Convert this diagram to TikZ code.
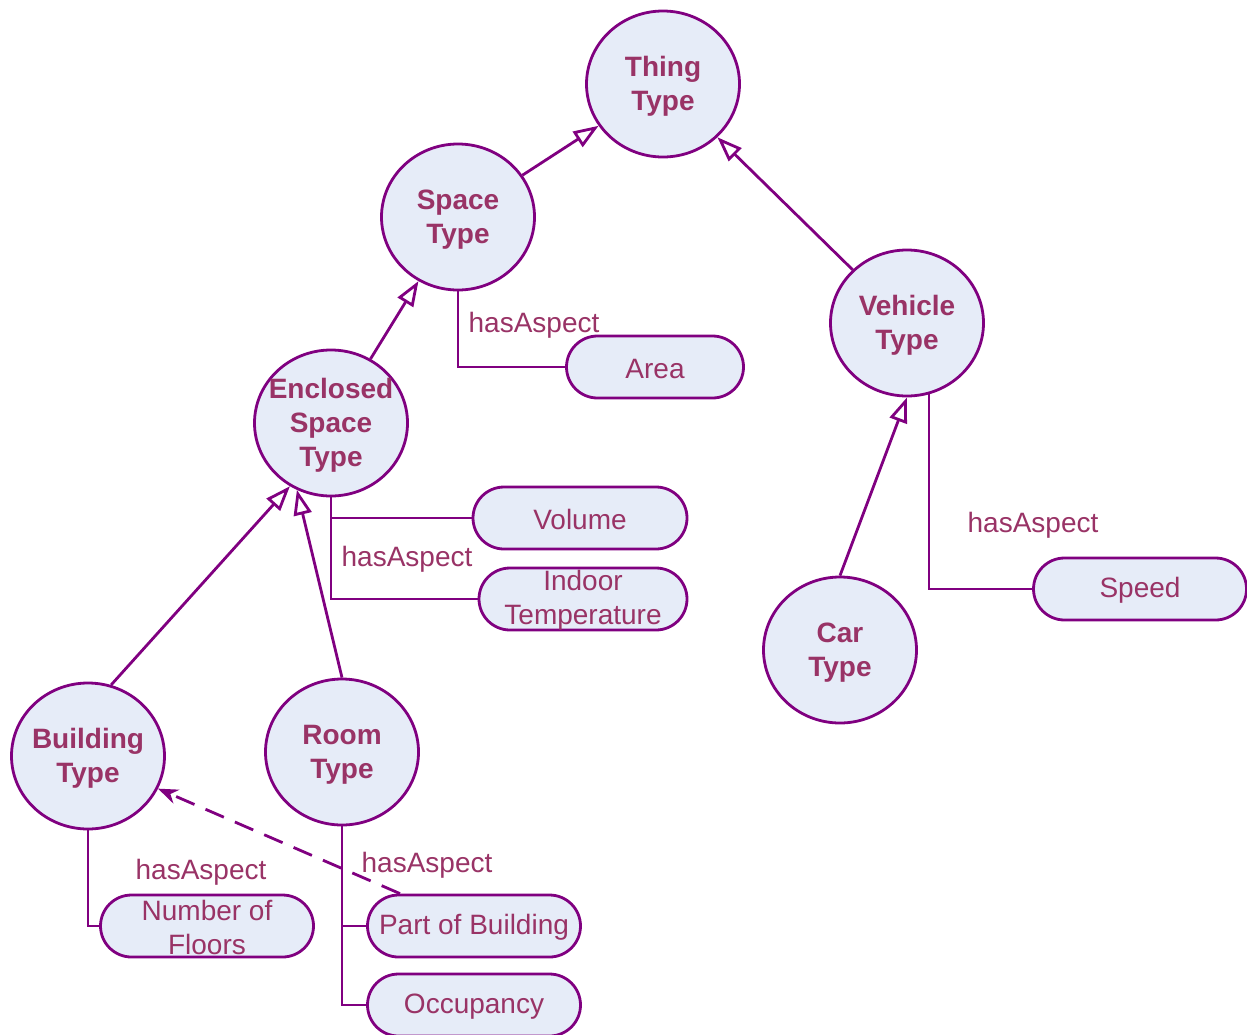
\documentclass[tikz,border=0pt]{standalone}
\usepackage{fontspec}
\setmainfont{Liberation Sans}
\usetikzlibrary{shapes.geometric,shapes.misc,arrows.meta}
\definecolor{lnc}{HTML}{800080}
\definecolor{txc}{HTML}{993366}
\definecolor{fil}{HTML}{E6ECF8}
\pgfdeclarelayer{background}
\pgfsetlayers{background,main}
\tikzset{
  cls/.style={ellipse, draw=lnc, line width=2.8pt, fill=fil, minimum width=153pt, minimum height=146pt, inner sep=0pt},
  ctext/.style={align=center, text=txc, inner sep=0pt, yshift=-2.5pt, font=\fontsize{28}{34}\selectfont\bfseries},
  pill/.style={rounded rectangle, draw=lnc, line width=2.8pt, fill=fil, minimum width=213pt, minimum height=62pt, inner sep=0pt},
  ptext/.style={align=center, text=txc, inner sep=0pt, yshift=-1.5pt, font=\fontsize{28}{34}\selectfont},
  lbl/.style={text=txc, font=\fontsize{28}{34}\selectfont, inner sep=0pt},
  inh/.style={draw=lnc, line width=2.8pt, -{Triangle[open, length=25pt, width=18pt, fill=white]}},
  asp/.style={draw=lnc, line width=2.8pt},
  dep/.style={draw=lnc, line width=2.8pt, dash pattern=on 20pt off 12pt, -{Stealth[length=20pt, width=15pt]}}
}
\newcommand\cnode[3]{\node[cls, label={[ctext]center:{#3}}] (#1) at #2 {};}
\newcommand\pnode[4]{\node[pill, minimum width=#3, label={[ptext]center:{#4}}] (#1) at #2 {};}
\begin{document}
\begin{tikzpicture}[x=1pt, y=-1pt]
\useasboundingbox (0,0) rectangle (1247,1034);
\clip (0,0) rectangle (1247,1034);
% classes
\cnode{thing}{(663,84)}{Thing\\Type}
\cnode{space}{(458,217)}{Space\\Type}
\cnode{vehicle}{(907,323)}{Vehicle\\Type}
\cnode{enclosed}{(331,423)}{Enclosed\\Space\\Type}
\cnode{car}{(840,650)}{Car\\Type}
\cnode{building}{(88,756)}{Building\\Type}
\cnode{room}{(342,752)}{Room\\Type}
% aspects
\pnode{area}{(655,367)}{177pt}{Area}
\pnode{volume}{(580,518)}{214pt}{Volume}
\pnode{indoor}{(583,599)}{208pt}{Indoor\\Temperature}
\pnode{speed}{(1140,589)}{213pt}{Speed}
\pnode{floors}{(207,926)}{213pt}{Number of\\Floors}
\pnode{partb}{(474,926)}{213pt}{Part of Building}
\pnode{occ}{(474,1005)}{213pt}{Occupancy}
% labels
\node[lbl] (ha1) at (534,325) {hasAspect};
\node[lbl] (ha2) at (407,559) {hasAspect};
\node[lbl] (ha3) at (1033,525) {hasAspect};
\node[lbl] (ha4) at (201,872) {hasAspect};
\node[lbl] (ha5) at (427,865) {hasAspect};
% inheritance
\draw[inh] (space) -- (thing);
\draw[inh] (vehicle) -- (thing);
\draw[inh] (enclosed) -- (space);
\draw[inh] (building.72) -- (enclosed.237);
\draw[inh] (room.north) -- (enclosed.243);
\draw[inh] (car.north) -- (vehicle.south);
% hasAspect connectors
\begin{pgfonlayer}{background}
\draw[asp] (space.center) |- (area.west);
\draw[asp] (enclosed.center) |- (indoor.west);
\draw[asp] (enclosed.center |- volume.west) -- (volume.west);
\draw[asp] ([xshift=22pt]vehicle.center) |- (speed.west);
\draw[asp] (building.center) |- (floors.west);
\draw[asp] (room.center) |- (occ.west);
\draw[asp] (room.center |- partb.west) -- (partb.west);
\end{pgfonlayer}
% dependency
\draw[dep] ([xshift=-74pt]partb.north) -- (building.-25);
\end{tikzpicture}
\end{document}
